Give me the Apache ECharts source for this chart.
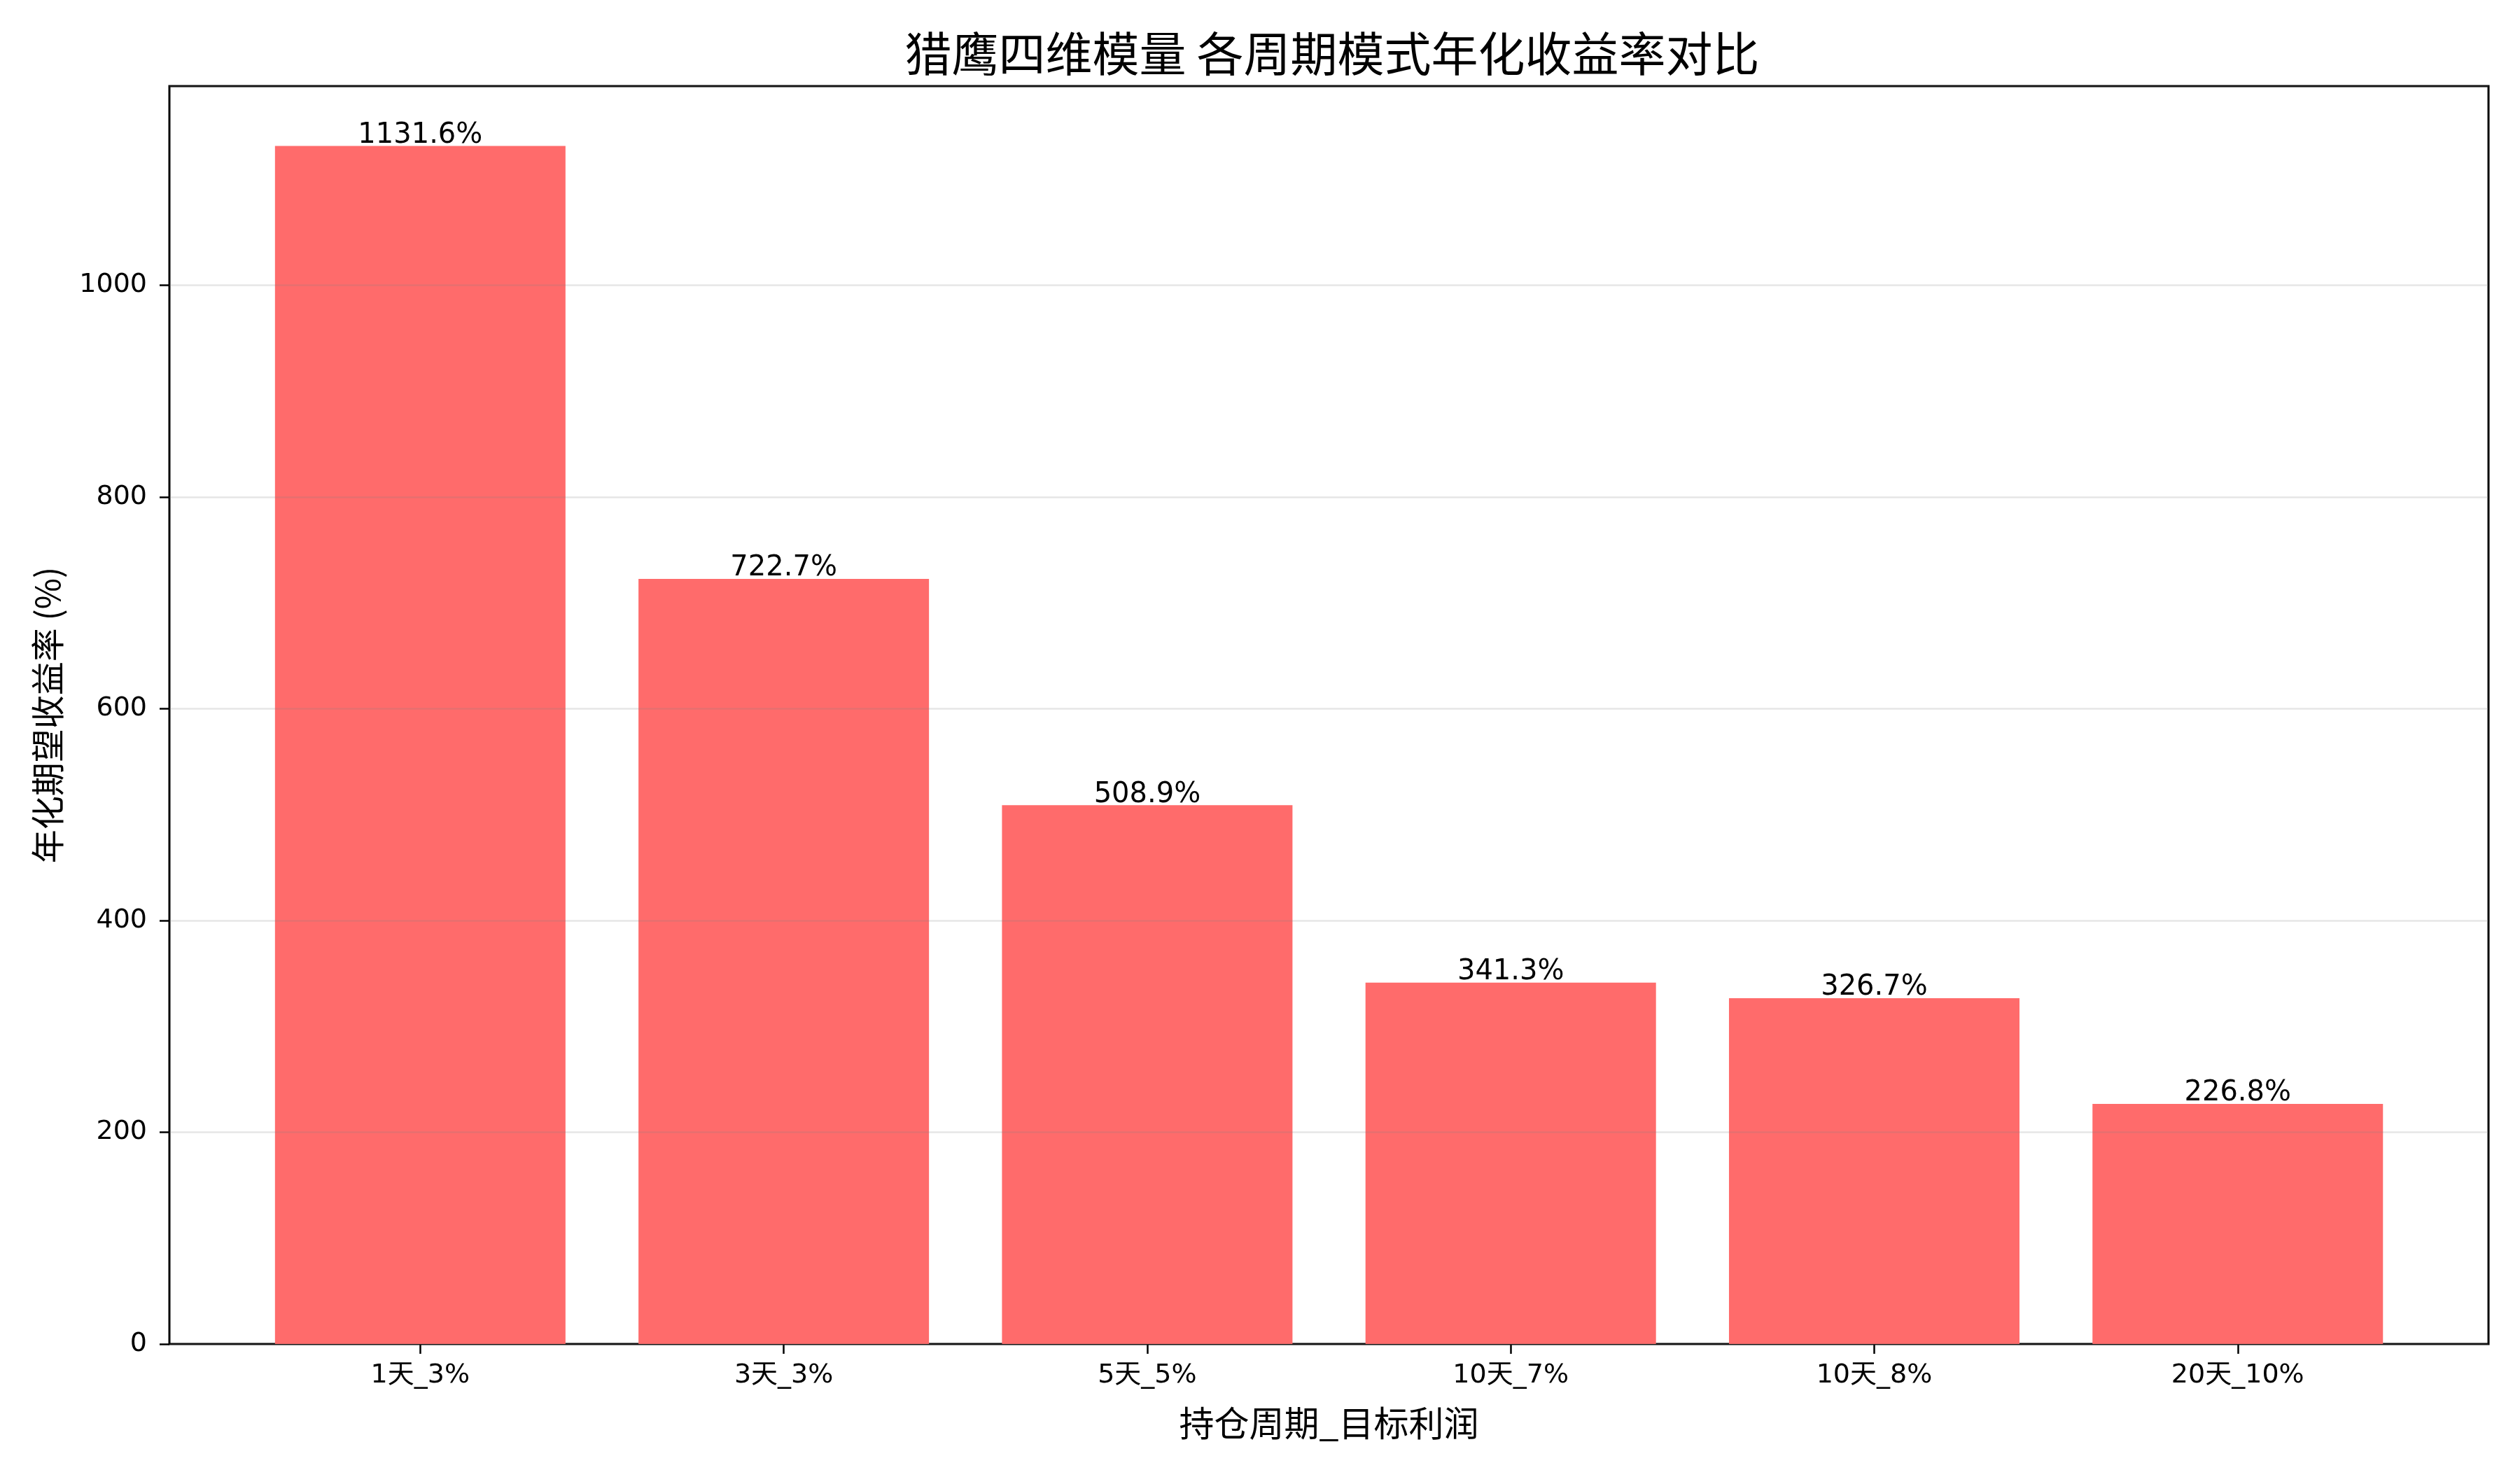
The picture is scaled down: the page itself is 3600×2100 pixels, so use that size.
<!DOCTYPE html>
<html>
<head>
<meta charset="utf-8">
<script src="https://cdn.jsdelivr.net/npm/echarts@6/dist/echarts.min.js"></script>
<style>
  html, body { margin: 0; padding: 0; background: #fff; }
  #main { width: 3600px; height: 2100px; }
</style>
</head>
<body>
<div id="main"></div>
<script>
// 各周期模式 (持仓周期_目标利润)
let categories = ["1天_3%", "3天_3%", "5天_5%", "10天_7%", "10天_8%", "20天_10%"];
// 年化期望收益率 (%)
let annualReturns = [1131.6, 722.7, 508.9, 341.3, 326.7, 226.8];

let titleText = "猎鹰四维模量 各周期模式年化收益率对比";
let xName = "持仓周期_目标利润";
let yName = "年化期望收益率 (%)";

let latin = "DejaVu Sans, Noto Sans CJK SC, sans-serif";
let yMax = 1188.18;

let chartDOM = document.getElementById("main");
let chart = echarts.init(chartDOM, null, { renderer: "canvas" });

let opts = {
    backgroundColor: "#fff",
    animation: false,
    title: {
        text: titleText,
        left: 1898,
        top: 38,
        textAlign: "center",
        textStyle: {
            fontFamily: "Noto Sans CJK SC, DejaVu Sans",
            fontSize: 67,
            fontWeight: "normal",
            color: "#000"
        }
    },
    grid: [
        {
            // 外框 + y轴
            left: 242, right: 45, top: 123, bottom: 180,
            show: true,
            borderColor: "#000",
            borderWidth: 3,
            backgroundColor: "transparent"
        },
        {
            // 柱子所在的类目区域
            left: 340.7, right: 143.6, top: 123, bottom: 180
        }
    ],
    xAxis: [
        {
            gridIndex: 0,
            type: "value",
            min: 0, max: 1,
            show: false
        },
        {
            gridIndex: 1,
            type: "category",
            data: categories,
            axisLine: { show: false },
            axisTick: {
                show: true,
                alignWithLabel: true,
                length: 14,
                lineStyle: { color: "#000", width: 2.5 }
            },
            axisLabel: {
                margin: 26,
                fontSize: 38,
                fontFamily: latin,
                color: "#000"
            },
            name: xName,
            nameLocation: "middle",
            nameGap: 88,
            nameTextStyle: {
                fontSize: 50,
                fontFamily: "Noto Sans CJK SC, DejaVu Sans",
                color: "#000"
            }
        }
    ],
    yAxis: [
        {
            gridIndex: 0,
            type: "value",
            min: 0,
            max: yMax,
            interval: 200,
            z: 5,
            axisLine: { show: false },
            axisTick: {
                show: true,
                length: 14,
                lineStyle: { color: "#000", width: 2.5 }
            },
            axisLabel: {
                margin: 32,
                fontSize: 38,
                fontFamily: latin,
                color: "#000",
                showMaxLabel: false,
                formatter: function (v) { return String(v); }
            },
            splitLine: {
                show: true,
                lineStyle: { color: "rgba(128,128,128,0.2)", width: 2.5 }
            },
            name: yName,
            nameLocation: "middle",
            nameGap: 150,
            nameTextStyle: {
                fontSize: 48,
                fontFamily: "Noto Sans CJK SC, DejaVu Sans",
                color: "#000"
            }
        },
        {
            gridIndex: 1,
            type: "value",
            min: 0,
            max: yMax,
            show: false,
            splitLine: { show: false }
        }
    ],
    series: [
        {
            type: "bar",
            xAxisIndex: 1,
            yAxisIndex: 1,
            z: 1,
            data: annualReturns,
            barWidth: 415,
            itemStyle: { color: "#ff6b6b" },
            label: {
                show: true,
                position: "top",
                distance: -5,
                fontSize: 40,
                fontFamily: latin,
                color: "#000",
                formatter: function (p) {
                    return p.value.toFixed(1) + "%";
                }
            }
        }
    ]
};
chart.setOption(opts);
</script>
</body>
</html>
